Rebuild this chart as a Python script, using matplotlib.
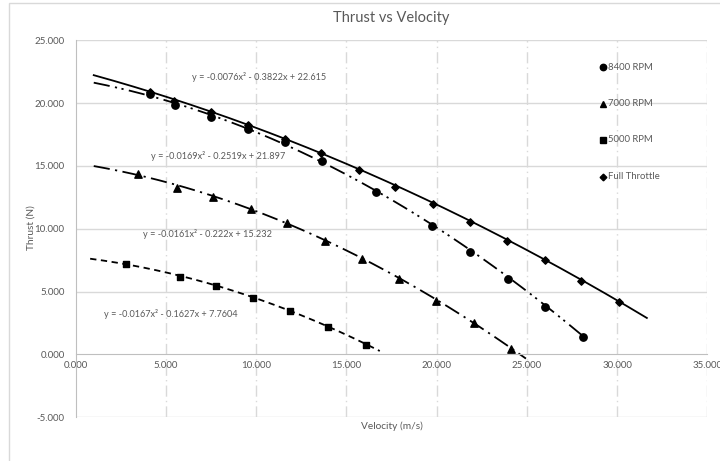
import matplotlib
matplotlib.use("Agg")
import matplotlib.pyplot as plt
import numpy as np
from matplotlib.patches import Rectangle

plt.rcParams['font.family'] = ['Lato', 'DejaVu Sans']

# ---- data ----
ft_x = [4.10, 5.43, 7.49, 9.54, 11.61, 13.62, 15.68, 17.72, 19.78, 21.85, 23.91, 25.99, 28.01, 30.09]
ft_y = [20.85, 20.20, 19.28, 18.23, 17.14, 16.01, 14.71, 13.33, 11.96, 10.55, 9.05, 7.50, 5.84, 4.14]

r8400_x = [4.10, 5.52, 7.49, 9.53, 11.61, 13.65, 16.65, 19.77, 21.84, 23.93, 26.01, 28.09]
r8400_y = [20.74, 19.83, 18.88, 17.93, 16.89, 15.38, 12.92, 10.19, 8.12, 6.00, 3.77, 1.40]

r7000_x = [3.48, 5.61, 7.62, 9.70, 11.70, 13.80, 15.85, 17.94, 19.98, 22.06, 24.12]
r7000_y = [14.33, 13.27, 12.56, 11.55, 10.44, 9.04, 7.56, 6.03, 4.26, 2.47, 0.42]

r5000_x = [2.78, 5.76, 7.76, 9.82, 11.90, 13.99, 16.06]
r5000_y = [7.19, 6.15, 5.46, 4.53, 3.45, 2.20, 0.76]

series_labels = ["8400 RPM", "7000 RPM", "5000 RPM", "Full Throttle"]

# trendline coefficients (a, b, c) for y = a x^2 + b x + c, and drawn ranges
coef_ft = [-0.0076, -0.3822, 22.615]
coef_8400 = [-0.0169, -0.2519, 21.897]
coef_7000 = [-0.0161, -0.222, 15.232]
coef_5000 = [-0.0167, -0.1627, 7.7604]
range_ft = [1.0, 31.65]
range_8400 = [1.0, 28.2]
range_7000 = [1.0, 24.95]
range_5000 = [0.8, 16.85]

eq_texts = ["y = -0.0076x² - 0.3822x + 22.615",
            "y = -0.0169x² - 0.2519x + 21.897",
            "y = -0.0161x² - 0.222x + 15.232",
            "y = -0.0167x² - 0.1627x + 7.7604"]
eq_pos = [(6.45, 22.08), (4.17, 15.79), (3.73, 9.58), (1.57, 3.21)]

x_ticks = [0, 5, 10, 15, 20, 25, 30, 35]
y_ticks = [-5, 0, 5, 10, 15, 20, 25]

# ---- figure ----
W, H = 720, 461
fig = plt.figure(figsize=(W / 100, H / 100), dpi=100)
ax = fig.add_axes([75.7 / W, 1 - 417.3 / H, (707.3 - 75.7) / W, (417.3 - 40.3) / H])

grid_c = '#d9d9d9'
txt_c = '#595959'

# chart border
fig.patches.append(Rectangle((9.3 / W, -0.05), 1.1, 1 - 2.7 / H + 0.05, transform=fig.transFigure,
                             fill=False, edgecolor=grid_c, linewidth=1.0))

ax.set_xlim(0, 35)
ax.set_ylim(-5, 25)
ax.set_xticks(x_ticks)
ax.set_yticks(y_ticks)
ax.set_xticklabels([f"{v:.3f}" for v in x_ticks])
ax.set_yticklabels([f"{v:.3f}" for v in y_ticks])
ax.tick_params(length=0, labelsize=7, labelcolor=txt_c)
ax.tick_params(axis='y', pad=8)
ax.tick_params(axis='x', pad=5)

for v in y_ticks:
    if v != 0:
        ax.axhline(v, color=grid_c, linewidth=1.0, zorder=0)
for v in x_ticks[1:]:
    ax.axvline(v, color=grid_c, linewidth=1.0, linestyle=(0, (8, 3, 1, 3)), zorder=0)

for s in ['top', 'right', 'bottom']:
    ax.spines[s].set_visible(False)
ax.spines['left'].set_color('#bfbfbf')
ax.spines['bottom'].set_visible(True)
ax.spines['bottom'].set_position(('data', 0))
ax.spines['bottom'].set_color('#bfbfbf')

# trendlines
def curve(coef, rng, **kw):
    xs = np.linspace(rng[0], rng[1], 200)
    ax.plot(xs, np.polyval(coef, xs), color='black', linewidth=1.3, zorder=2, **kw)

curve(coef_ft, range_ft, linestyle='-')
curve(coef_8400, range_8400, linestyle=(0, (9, 3, 1.2, 2.5, 1.2, 3)))
curve(coef_7000, range_7000, linestyle=(0, (9, 3, 1.2, 3)))
curve(coef_5000, range_5000, linestyle=(0, (3.5, 2.5)))

ax.scatter(r8400_x, r8400_y, marker='o', s=28, color='black', zorder=3)
ax.scatter(r7000_x, r7000_y, marker='^', s=28, color='black', zorder=3)
ax.scatter(r5000_x, r5000_y, marker='s', s=24, color='black', zorder=3)
ax.scatter(ft_x, ft_y, marker='D', s=14, color='black', zorder=3)

for t, (x, y) in zip(eq_texts, eq_pos):
    ax.text(x, y, t, fontsize=6.6, color=txt_c, ha='left', va='center', zorder=4)

# legend (manual, matching layout)
leg_markers = ['o', '^', 's', 'D']
leg_sizes = [4.6, 4.6, 4.4, 3.4]
leg_y = [67.3, 103.7, 140.0, 176.7]
for lab, m, ms, py in zip(series_labels, leg_markers, leg_sizes, leg_y):
    fy = 1 - py / H
    fig.lines.append(plt.Line2D([603.0 / W], [fy], marker=m, markersize=ms, color='black',
                                linestyle='none', transform=fig.transFigure))
    fig.text(608.5 / W, fy, lab, fontsize=6.8, color=txt_c, ha='left', va='center')

fig.text(391.5 / W, 1 - 18 / H, "Thrust vs Velocity", fontsize=10.5, color=txt_c,
         ha='center', va='center')
fig.text(391.5 / W, 1 - 426.7 / H, "Velocity (m/s)", fontsize=7.3, color=txt_c,
         ha='center', va='center')
fig.text(31 / W, 1 - 228 / H, "Thrust (N)", fontsize=7.3, color=txt_c,
         ha='center', va='center', rotation=90)

fig.savefig("out.png", dpi=100)
